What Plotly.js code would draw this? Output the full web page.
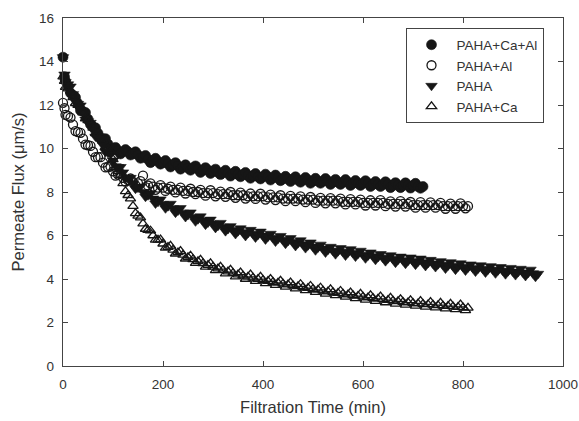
<!DOCTYPE html>
<html>
<head>
<meta charset="utf-8">
<script src="https://cdn.plot.ly/plotly-3.0.1.min.js"></script>
<style>
  html, body { margin: 0; padding: 0; background: #ffffff; }
  #chart { width: 579px; height: 421px; }
</style>
</head>
<body>
<div id="chart"></div>
<script>
// Sampling times (min): the main readings, and the readings taken in between.
const timeMin = [0, 3, 10, 20, 30, 40, 50, 60, 70, 80, 90, 100, 110, 120, 130, 140, 150, 160, 170, 180, 190,
  200, 210, 220, 230, 240, 250, 260, 270, 280, 290, 300, 310, 320, 330, 340, 350, 360, 370, 380, 390,
  400, 410, 420, 430, 440, 450, 460, 470, 480, 490, 500, 510, 520, 530, 540, 550, 560, 570, 580, 590,
  600, 610, 620, 630, 640, 650, 660, 670, 680, 690, 700, 710, 720, 730, 740, 750, 760, 770, 780, 790,
  800, 810, 820, 830, 840, 850, 860, 870, 880, 890, 900, 910, 920, 930, 940, 950];
const timeMid = [5, 15, 25, 35, 45, 55, 65, 75, 85, 95, 105, 115, 125, 135, 145, 155, 165, 175, 185, 195,
  205, 215, 225, 235, 245, 255, 265, 275, 285, 295, 305, 315, 325, 335, 345, 355, 365, 375, 385, 395,
  405, 415, 425, 435, 445, 455, 465, 475, 485, 495, 505, 515, 525, 535, 545, 555, 565, 575, 585, 595,
  605, 615, 625, 635, 645, 655, 665, 675, 685, 695, 705, 715, 725, 735, 745, 755, 765, 775, 785, 795,
  805, 815, 825, 835, 845, 855, 865, 875, 885, 895, 905, 915, 925, 935, 945];

// Permeate flux (µm/s), PAHA+Ca+Al
const fluxCaAl = [14.2, 13.3, 12.85, 12.45, 12.05, 11.7, 11.35, 11.0, 10.7, 10.45, 10.2, 9.95, 9.9, 9.85, 9.85,
  9.75, 9.7, 9.6, 9.5, 9.45, 9.4, 9.35, 9.3, 9.25, 9.2, 9.15, 9.1, 9.1, 9.05, 9.0, 9.0, 8.95, 8.9, 8.9, 8.85,
  8.85, 8.8, 8.8, 8.75, 8.75, 8.7, 8.7, 8.7, 8.65, 8.65, 8.6, 8.6, 8.6, 8.55, 8.55, 8.55, 8.5, 8.5, 8.5, 8.5,
  8.45, 8.45, 8.45, 8.45, 8.4, 8.4, 8.4, 8.4, 8.35, 8.35, 8.35, 8.35, 8.3, 8.3, 8.3, 8.3, 8.3, 8.25, 8.25];
const fluxCaAlMid = [13.1, 12.55, 12.35, 11.75, 11.65, 11.1, 10.95, 10.45, 10.45, 9.95, 10.05, 9.75, 9.95, 9.7,
  9.85, 9.55, 9.68, 9.35, 9.55, 9.28, 9.45, 9.15, 9.35, 9.05, 9.25, 9.0, 9.2, 8.9, 9.12, 8.85, 9.05, 8.8, 9.0,
  8.73, 8.95, 8.7, 8.9, 8.63, 8.85, 8.6, 8.82, 8.55, 8.78, 8.52, 8.72, 8.48, 8.7, 8.45, 8.67, 8.4, 8.63, 8.4,
  8.62, 8.35, 8.58, 8.35, 8.57, 8.3, 8.53, 8.3, 8.52, 8.25, 8.48, 8.25, 8.47, 8.2, 8.43, 8.2, 8.42, 8.18,
  8.4, 8.17];

// PAHA+Al
const fluxAl = [12.1, 11.85, 11.5, 11.1, 10.75, 10.45, 10.15, 9.85, 9.6, 9.35, 9.15, 8.95, 8.8, 8.65, 8.55,
  8.45, 8.4, 8.75, 8.3, 8.25, 8.2, 8.2, 8.15, 8.1, 8.1, 8.05, 8.05, 8.0, 8.0, 7.95, 7.95, 7.95, 7.9, 7.9, 7.9,
  7.85, 7.85, 7.85, 7.8, 7.8, 7.8, 7.8, 7.75, 7.75, 7.75, 7.7, 7.7, 7.7, 7.7, 7.65, 7.65, 7.65, 7.6, 7.6, 7.6,
  7.6, 7.6, 7.55, 7.55, 7.55, 7.55, 7.5, 7.5, 7.5, 7.5, 7.5, 7.45, 7.45, 7.45, 7.45, 7.45, 7.4, 7.4, 7.4, 7.4,
  7.4, 7.4, 7.35, 7.35, 7.35, 7.35, 7.35, 7.35];
const fluxAlMid = [11.55, 11.42, 10.8, 10.72, 10.18, 10.12, 9.6, 9.6, 9.13, 9.17, 8.75, 8.85, 8.48, 8.62, 8.3,
  8.5, 8.22, 8.4, 8.1, 8.32, 8.05, 8.25, 7.98, 8.2, 7.93, 8.15, 7.9, 8.1, 7.83, 8.08, 7.8, 8.02, 7.78, 8.0,
  7.73, 7.97, 7.7, 7.93, 7.68, 7.92, 7.65, 7.88, 7.63, 7.85, 7.58, 7.82, 7.58, 7.8, 7.53, 7.77, 7.5, 7.73,
  7.48, 7.72, 7.48, 7.7, 7.43, 7.67, 7.43, 7.65, 7.38, 7.62, 7.38, 7.63, 7.35, 7.57, 7.33, 7.58, 7.33, 7.54,
  7.28, 7.53, 7.28, 7.52, 7.28, 7.5, 7.23, 7.47, 7.23, 7.48, 7.25];

// PAHA
const fluxPAHA = [14.2, 13.4, 12.95, 12.5, 12.05, 11.65, 11.25, 10.85, 10.5, 10.15, 9.8, 9.45, 9.15, 8.9, 8.65,
  8.4, 8.2, 8.0, 7.85, 7.7, 7.55, 7.45, 7.35, 7.25, 7.15, 7.05, 6.95, 6.85, 6.75, 6.7, 6.6, 6.55, 6.45, 6.4,
  6.3, 6.25, 6.2, 6.15, 6.12, 6.08, 6.04, 6.0, 5.95, 5.9, 5.85, 5.8, 5.75, 5.7, 5.65, 5.6, 5.55, 5.5, 5.45,
  5.4, 5.35, 5.3, 5.28, 5.25, 5.22, 5.2, 5.16, 5.12, 5.08, 5.05, 5.01, 4.98, 4.95, 4.92, 4.89, 4.86, 4.84,
  4.82, 4.8, 4.77, 4.74, 4.71, 4.68, 4.65, 4.62, 4.6, 4.57, 4.55, 4.53, 4.5, 4.48, 4.46, 4.44, 4.42, 4.4,
  4.38, 4.36, 4.34, 4.32, 4.3, 4.28, 4.26, 4.24];
const fluxPAHAMid = [13.05, 12.85, 12.15, 11.98, 11.33, 11.18, 10.55, 10.45, 9.85, 9.75, 9.18, 9.15, 8.65, 8.65,
  8.15, 8.25, 7.78, 7.93, 7.47, 7.66, 7.25, 7.46, 7.05, 7.26, 6.85, 7.06, 6.65, 6.88, 6.5, 6.73, 6.35, 6.58,
  6.2, 6.43, 6.07, 6.33, 5.98, 6.26, 5.91, 6.18, 5.82, 6.08, 5.72, 5.98, 5.62, 5.88, 5.52, 5.78, 5.42, 5.68,
  5.32, 5.58, 5.22, 5.48, 5.14, 5.42, 5.08, 5.37, 5.03, 5.3, 4.95, 5.22, 4.88, 5.15, 4.82, 5.09, 4.75, 5.03,
  4.7, 4.99, 4.66, 4.94, 4.6, 4.88, 4.55, 4.82, 4.48, 4.77, 4.43, 4.72, 4.39, 4.67, 4.34, 4.63, 4.3, 4.59,
  4.26, 4.55, 4.22, 4.51, 4.18, 4.47, 4.14, 4.43, 4.1];

// PAHA+Ca
const fluxCa = [13.3, 13.1, 12.75, 12.35, 12.0, 11.65, 11.3, 10.95, 10.65, 10.35, 10.0, 9.5, 8.95, 8.4, 7.85,
  7.35, 6.9, 6.55, 6.25, 6.0, 5.8, 5.62, 5.47, 5.34, 5.22, 5.11, 5.0, 4.9, 4.81, 4.72, 4.64, 4.56, 4.48,
  4.41, 4.34, 4.27, 4.2, 4.15, 4.1, 4.05, 4.0, 3.95, 3.9, 3.86, 3.82, 3.78, 3.74, 3.7, 3.66, 3.62, 3.58,
  3.54, 3.5, 3.46, 3.42, 3.39, 3.35, 3.32, 3.28, 3.25, 3.22, 3.18, 3.15, 3.12, 3.09, 3.06, 3.03, 3.0, 2.97,
  2.94, 2.92, 2.89, 2.87, 2.85, 2.83, 2.81, 2.79, 2.77, 2.75, 2.73, 2.71, 2.69, 2.67];
const fluxCaMid = [12.82, 12.65, 12.08, 11.93, 11.38, 11.22, 10.7, 10.6, 10.07, 9.85, 9.13, 8.78, 8.03, 7.7,
  7.02, 6.82, 6.3, 6.22, 5.8, 5.81, 5.43, 5.52, 5.16, 5.28, 4.93, 5.07, 4.73, 4.88, 4.56, 4.72, 4.4, 4.56,
  4.25, 4.42, 4.11, 4.3, 4.0, 4.2, 3.9, 4.1, 3.8, 4.0, 3.72, 3.92, 3.64, 3.84, 3.56, 3.76, 3.48, 3.68, 3.4,
  3.6, 3.32, 3.52, 3.25, 3.45, 3.18, 3.38, 3.11, 3.32, 3.04, 3.25, 2.98, 3.19, 2.92, 3.13, 2.86, 3.07, 2.81,
  3.02, 2.76, 2.98, 2.72, 2.94, 2.68, 2.9, 2.64, 2.86, 2.6, 2.82, 2.56];

const seriesNames = ['PAHA+Ca+Al', 'PAHA+Al', 'PAHA', 'PAHA+Ca'];

const ink = '#161616';
const fontFamily = 'Liberation Sans, Arial, Helvetica, sans-serif';

// Put the in-between readings back in time order so the markers overlap as a continuous run.
function merged(flux, fluxMid) {
  const pts = [];
  flux.forEach((v, i) => pts.push([timeMin[i], v]));
  fluxMid.forEach((v, i) => pts.push([timeMid[i], v]));
  pts.sort((a, b) => a[0] - b[0]);
  return { x: pts.map(p => p[0]), y: pts.map(p => p[1]) };
}

function run(name, flux, fluxMid, symbol, filled) {
  const d = merged(flux, fluxMid);
  return {
    type: 'scatter',
    mode: 'markers',
    name: name,
    x: d.x,
    y: d.y,
    marker: {
      symbol: filled ? symbol : symbol + '-open',
      size: filled ? 10 : 9,
      color: ink,
      line: { color: ink, width: filled ? 0.6 : 1.3 }
    },
    cliponaxis: false
  };
}

const traces = [
  run(seriesNames[0], fluxCaAl, fluxCaAlMid, 'circle', true),
  run(seriesNames[1], fluxAl, fluxAlMid, 'circle', false),
  run(seriesNames[2], fluxPAHA, fluxPAHAMid, 'triangle-down', true),
  run(seriesNames[3], fluxCa, fluxCaMid, 'triangle-up', false)
];

const axisCommon = {
  showline: true,
  linecolor: '#444',
  linewidth: 1.2,
  mirror: 'ticks',
  ticks: 'inside',
  ticklen: 5,
  tickwidth: 1,
  tickcolor: '#444',
  showgrid: false,
  zeroline: false,
  tickfont: { family: fontFamily, size: 13.5, color: '#333' }
};

const layout = {
  width: 579,
  height: 421,
  margin: { l: 63, r: 16, t: 18, b: 55 },
  paper_bgcolor: '#ffffff',
  plot_bgcolor: '#ffffff',
  showlegend: true,
  xaxis: Object.assign({}, axisCommon, {
    range: [0, 1000],
    tickvals: [0, 200, 400, 600, 800, 1000],
    ticklabelstandoff: 6,
    title: { text: 'Filtration Time (min)', standoff: 10,
             font: { family: fontFamily, size: 16.5, color: '#333' } }
  }),
  yaxis: Object.assign({}, axisCommon, {
    range: [0, 16],
    tickvals: [0, 2, 4, 6, 8, 10, 12, 14, 16],
    ticklabelstandoff: 5,
    title: { text: 'Permeate Flux (\u03bcm/s)', standoff: 10,
             font: { family: fontFamily, size: 16.5, color: '#333' } }
  }),
  legend: {
    x: 0.685, y: 0.97, xanchor: 'left', yanchor: 'top',
    bgcolor: '#ffffff',
    bordercolor: '#444',
    borderwidth: 1,
    traceorder: 'normal',
    font: { family: fontFamily, size: 13.5, color: '#333' },
    itemwidth: 40
  }
};

Plotly.newPlot('chart', traces, layout, { staticPlot: true, displayModeBar: false });
</script>
</body>
</html>
